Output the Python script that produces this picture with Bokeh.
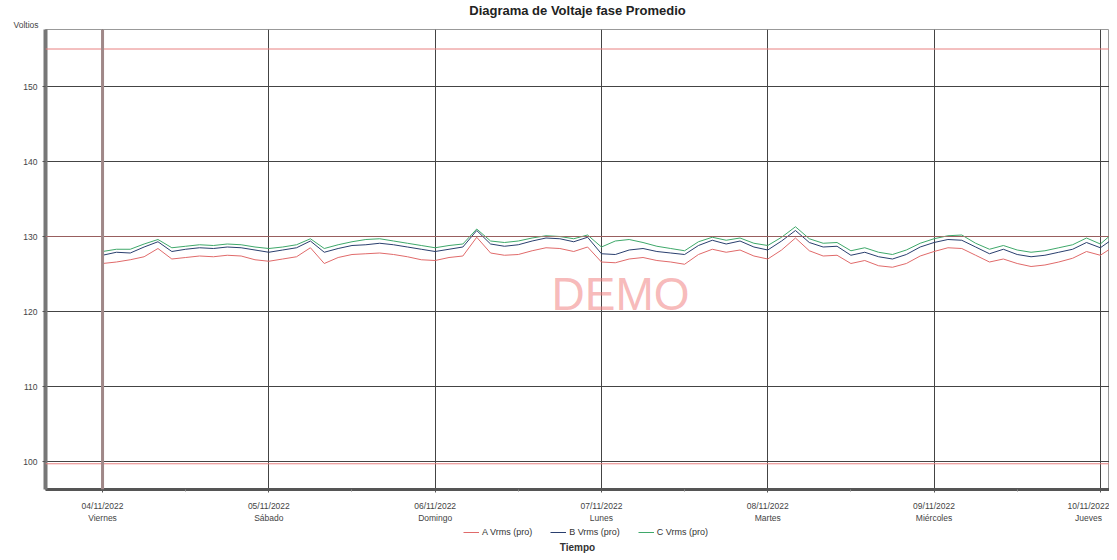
from bokeh.plotting import figure
from bokeh.layouts import column
from bokeh.models import Span, Label, Legend, LegendItem, FixedTicker, Range1d, Title
from bokeh.embed import file_html
from bokeh.resources import INLINE

# time in hours since 04/11/2022 00:00, every 2 hours
hours = list(range(0, 148, 2))

va = [126.4, 126.6, 126.9, 127.3, 128.4, 127.0, 127.2, 127.4, 127.3, 127.5, 127.4, 126.9,
      126.7, 127.0, 127.3, 128.5, 126.4, 127.2, 127.6, 127.7, 127.8, 127.6, 127.3, 126.9,
      126.8, 127.2, 127.4, 129.9, 127.8, 127.5, 127.6, 128.1, 128.5, 128.4, 128.0, 128.6,
      126.6, 126.5, 127.0, 127.2, 126.8, 126.6, 126.3, 127.6, 128.3, 127.9, 128.2, 127.4,
      127.0, 128.2, 129.8, 128.1, 127.4, 127.5, 126.4, 126.8, 126.1, 125.9, 126.4, 127.4,
      128.0, 128.5, 128.4, 127.5, 126.6, 127.0, 126.4, 126.0, 126.2, 126.6, 127.1, 128.0,
      127.5, 128.7]
vb = [127.5, 127.9, 127.8, 128.6, 129.3, 128.0, 128.3, 128.5, 128.4, 128.6, 128.5, 128.2,
      127.9, 128.2, 128.5, 129.4, 127.9, 128.4, 128.8, 128.9, 129.1, 128.9, 128.6, 128.3,
      128.0, 128.3, 128.6, 130.8, 129.0, 128.7, 128.9, 129.4, 129.8, 129.7, 129.3, 129.9,
      127.7, 127.6, 128.2, 128.4, 128.0, 127.8, 127.6, 128.8, 129.5, 129.0, 129.4, 128.6,
      128.2, 129.4, 130.8, 129.2, 128.6, 128.7, 127.5, 127.9, 127.3, 127.0, 127.6, 128.6,
      129.2, 129.6, 129.5, 128.6, 127.7, 128.3, 127.6, 127.3, 127.5, 127.9, 128.3, 129.2,
      128.5, 129.8]
vc = [128.0, 128.3, 128.3, 129.0, 129.6, 128.5, 128.7, 128.9, 128.8, 129.0, 128.9, 128.6,
      128.4, 128.6, 128.9, 129.7, 128.4, 128.9, 129.3, 129.6, 129.7, 129.4, 129.1, 128.8,
      128.5, 128.8, 129.0, 131.0, 129.4, 129.2, 129.4, 129.8, 130.1, 130.0, 129.7, 130.2,
      128.6, 129.4, 129.6, 129.2, 128.7, 128.4, 128.1, 129.3, 129.9, 129.5, 129.8, 129.1,
      128.8, 129.9, 131.3, 129.7, 129.1, 129.2, 128.1, 128.5, 127.9, 127.6, 128.2, 129.1,
      129.7, 130.1, 130.2, 129.1, 128.3, 128.8, 128.2, 127.9, 128.1, 128.5, 128.9, 129.8,
      129.0, 130.6]

day_ticks = [0, 1, 2, 3, 4, 5, 6]
day_labels = ["04/11/2022\nViernes", "05/11/2022\nSábado", "06/11/2022\nDomingo",
              "07/11/2022\nLunes", "08/11/2022\nMartes", "09/11/2022\nMiércoles",
              "10/11/2022\nJueves"]
y_ticks = [100, 110, 120, 130, 140, 150]
limit_high = 155.0
limit_low = 99.7
nominal = 130.0
series_names = ["A Vrms (pro)", "B Vrms (pro)", "C Vrms (pro)"]
series_colors = ["#e06a6a", "#2a3f6e", "#3fa86a"]

days = [h / 24.0 for h in hours]
FONT = "Liberation Sans"

p = figure(frame_width=1064, frame_height=460, output_backend="svg", toolbar_location=None,
           title=None,
           x_range=Range1d(-0.343, 6.055), y_range=Range1d(96.27, 157.6),
           min_border_left=45, min_border_right=0, min_border_top=0, min_border_bottom=0)
p.outline_line_color = "#999999"
p.outline_line_width = 1

p.add_layout(Title(text="Voltios", align="left", offset=-32, standoff=0,
                   text_font=FONT, text_font_size="8.5px", text_font_style="normal",
                   text_color="#444444"), "above")
p.add_layout(Title(text="Diagrama de Voltaje fase Promedio", align="center", standoff=0,
                   text_font=FONT, text_font_size="13px", text_font_style="bold",
                   text_color="#222222"), "above")

# grid
p.xgrid.ticker = FixedTicker(ticks=day_ticks)
p.ygrid.ticker = FixedTicker(ticks=y_ticks)
p.xgrid.grid_line_color = "#444444"
p.ygrid.grid_line_color = "#444444"

# axes
p.xaxis.ticker = FixedTicker(ticks=day_ticks, minor_ticks=[d + 0.5 for d in range(-1, 7)])
p.xaxis.major_label_overrides = {t: l for t, l in zip(day_ticks, day_labels)}
p.yaxis.ticker = FixedTicker(ticks=y_ticks)
for ax in (p.xaxis[0], p.yaxis[0]):
    ax.major_label_text_font = FONT
    ax.major_label_text_font_size = "8.5px"
    ax.major_label_text_color = "#444444"
    ax.axis_line_color = "#777777"
    ax.major_tick_line_color = "#555555"
    ax.minor_tick_line_color = "#888888"
    ax.major_tick_out = 3
    ax.major_tick_in = 0
    ax.minor_tick_out = 2
    ax.minor_tick_in = 0
p.yaxis.axis_line_width = 4
p.xaxis.axis_line_width = 3
p.xaxis.axis_line_color = "#555555"
p.yaxis.minor_tick_line_color = None
p.xaxis.major_label_standoff = 8
p.yaxis.major_label_standoff = 5

# limit lines
for v in (limit_high, limit_low):
    p.add_layout(Span(location=v, dimension="width", line_color="#e88080", line_width=1))
p.add_layout(Span(location=nominal, dimension="width", line_color="#d07070", line_width=1, line_alpha=0.6))
p.add_layout(Span(location=0, dimension="height", line_color="#a08888", line_width=3))

for vals, col in zip([va, vb, vc], series_colors):
    p.line(days, vals, line_color=col, line_width=1)

# watermark
p.add_layout(Label(x=3.115, y=122.3, text="DEMO", text_font=FONT,
                   text_font_size="46px", text_color="#f08080", text_alpha=0.55,
                   text_align="center", text_baseline="middle"))

# legend + axis title strip
q = figure(frame_width=1064, frame_height=28, output_backend="svg", toolbar_location=None,
           title=None, x_axis_type=None, y_axis_type=None,
           x_range=Range1d(0, 1), y_range=Range1d(0, 1),
           min_border_left=45, min_border_right=0, min_border_top=0, min_border_bottom=0)
q.outline_line_color = None
q.xgrid.grid_line_color = None
q.ygrid.grid_line_color = None
dummies = [q.line([2, 3], [2, 2], line_color=c, line_width=1) for c in series_colors]
legend = Legend(items=[LegendItem(label=n, renderers=[r]) for n, r in zip(series_names, dummies)],
                orientation="horizontal", location=(418, 16), border_line_alpha=0,
                background_fill_alpha=0, label_text_font=FONT,
                label_text_font_size="9px", label_text_color="#333333",
                glyph_width=16, glyph_height=8, label_height=8, spacing=18,
                padding=0, margin=0, label_standoff=3)
q.add_layout(legend, "center")
q.add_layout(Label(x=0.5, y=0.22, text="Tiempo", text_font=FONT, text_font_size="10px",
                   text_font_style="bold", text_color="#333333",
                   text_align="center", text_baseline="middle"))

open("out.html", "w").write(file_html(column(p, q, spacing=0), INLINE))
